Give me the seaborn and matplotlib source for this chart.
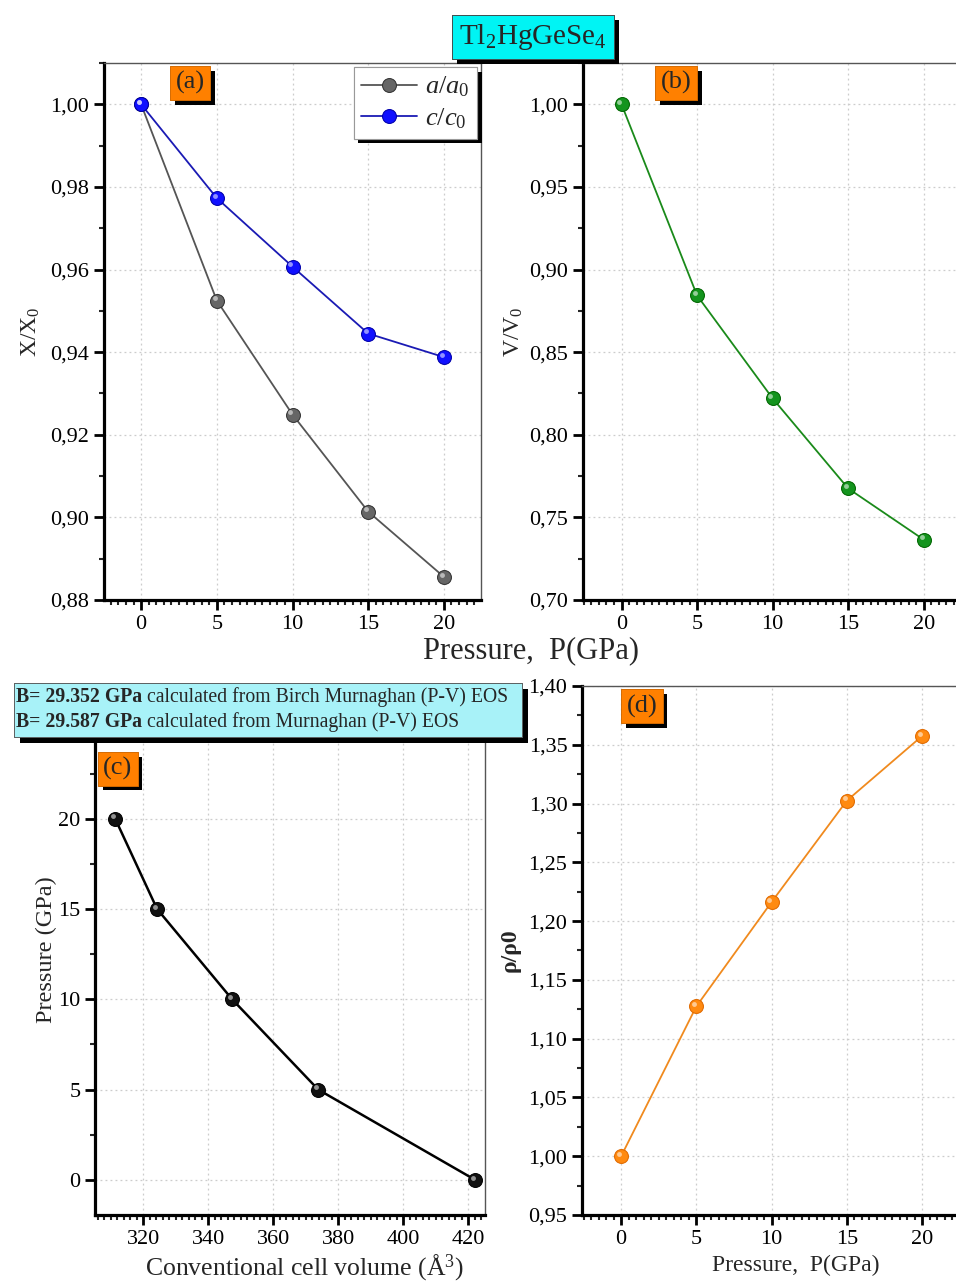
import numpy as np
import pandas as pd
import matplotlib
matplotlib.use("Agg")
import matplotlib.pyplot as plt
import matplotlib.patheffects as pe
from matplotlib.patches import Rectangle
from matplotlib.transforms import ScaledTranslation
from matplotlib.ticker import MultipleLocator, FuncFormatter, FixedLocator
import seaborn as sns

# ---------------- data ----------------
pressure = [0, 5, 10, 15, 20]
a_ratio = [1.000, 0.9525, 0.9249, 0.9014, 0.8856]
c_ratio = [1.000, 0.9773, 0.9607, 0.9445, 0.9388]
v_ratio = [1.000, 0.8843, 0.8220, 0.7675, 0.7365]
volume = [422.1, 373.8, 347.3, 324.2, 311.3]
rho_ratio = [1.000, 1.1275, 1.2163, 1.3025, 1.3575]
c_pressure_ticks = [0, 5, 10, 15, 20]

title_text = "Tl$_2$HgGeSe$_4$"
box_bold = ["B= 29.352 GPa", "B= 29.587 GPa"]
box_rest = [" calculated from Birch Murnaghan (P-V) EOS",
            " calculated from Murnaghan (P-V) EOS"]

sns.set_style("ticks")
plt.rcParams["font.family"] = ["Liberation Serif", "DejaVu Serif"]
plt.rcParams["mathtext.fontset"] = "custom"
plt.rcParams["mathtext.rm"] = "Liberation Serif"
plt.rcParams["mathtext.it"] = "Liberation Serif:italic"
plt.rcParams["mathtext.bf"] = "Liberation Serif:bold"

W, H = 956, 1284
fig = plt.figure(figsize=(W / 100, H / 100), dpi=100)


def rect(l, t, r, b):
    return [l / W, 1 - b / H, (r - l) / W, (b - t) / H]


ax_a = fig.add_axes(rect(104, 63, 481, 600))
ax_b = fig.add_axes(rect(583, 63, 960, 600))
ax_c = fig.add_axes(rect(95, 685, 485, 1215))
ax_d = fig.add_axes(rect(582, 686, 959, 1215))

comma2 = FuncFormatter(lambda v, p: f"{v:.2f}".replace(".", ","))
intfmt = FuncFormatter(lambda v, p: f"{v:.0f}")

shadow = [pe.withSimplePatchShadow(offset=(3.5, -3.5), shadow_rgbFace="black",
                                   alpha=1.0), pe.Normal()]


def style(ax, xmaj, xmin, ymaj, ymin, yfmt):
    for s in ["left", "bottom"]:
        ax.spines[s].set_linewidth(2.3)
        ax.spines[s].set_color("black")
    for s in ["top", "right"]:
        ax.spines[s].set_visible(True)
        ax.spines[s].set_linewidth(1.0)
        ax.spines[s].set_color("#555555")
    ax.xaxis.set_major_locator(MultipleLocator(xmaj))
    ax.xaxis.set_minor_locator(MultipleLocator(xmin))
    ax.yaxis.set_major_locator(MultipleLocator(ymaj))
    ax.yaxis.set_minor_locator(MultipleLocator(ymin))
    ax.yaxis.set_major_formatter(yfmt)
    ax.xaxis.set_major_formatter(intfmt)
    ax.tick_params(which="major", direction="out", length=7, width=2.0,
                   labelsize=16, colors="black", top=False, right=False)
    ax.tick_params(which="minor", direction="out", length=3.5, width=1.5,
                   top=False, right=False)
    ax.grid(True, which="major", linestyle=(0, (1.5, 2.5)), color="#cccccc",
            linewidth=0.9)
    ax.set_axisbelow(True)


def panel_label(ax, txt, x, y):
    t = ax.text(x, y, txt, transform=ax.transAxes, fontsize=19,
                ha="center", va="center", zorder=10,
                bbox=dict(boxstyle="square,pad=0.2", fc="#ff8000",
                          ec="#cc6600", lw=0.5))
    t.get_bbox_patch().set_path_effects(shadow)


def highlight(ax, x, y):
    off = ax.transData + ScaledTranslation(-1.6 / 72, 1.6 / 72,
                                           fig.dpi_scale_trans)
    ax.plot(x, y, linestyle="none", marker="o", markersize=3.5,
            markerfacecolor="white", markeredgewidth=0, alpha=0.55,
            transform=off, zorder=5)


mk = dict(marker="o", markersize=10, linewidth=1.3)

# ---------------- (a) ----------------
df_a = pd.DataFrame({"P": pressure * 2, "val": a_ratio + c_ratio,
                     "series": ["a"] * 5 + ["c"] * 5})
sns.lineplot(data=df_a[df_a.series == "a"], x="P", y="val", ax=ax_a,
             color="#555555", markeredgecolor="#333333",
             markerfacecolor="#666666",
             label=r"$\mathit{a/a}_{\mathit{0}}$", **mk)
sns.lineplot(data=df_a[df_a.series == "c"], x="P", y="val", ax=ax_a,
             color="#1a1ab4", markeredgecolor="#0000aa",
             markerfacecolor="#1010ff",
             label=r"$\mathit{c/c}_{\mathit{0}}$", **mk)
highlight(ax_a, pressure, a_ratio)
highlight(ax_a, pressure, c_ratio)
ax_a.set_xlim(-2.45, 22.45)
ax_a.set_ylim(0.88, 1.01)
style(ax_a, 5, 0.5, 0.02, 0.01, comma2)
ax_a.set_xlabel("")
ax_a.set_ylabel("X/X$_0$", fontsize=17, labelpad=6)
leg = ax_a.legend(loc="upper right", fontsize=19, frameon=True,
                  fancybox=False, borderaxespad=0.15, handlelength=2.1,
                  borderpad=0.3, labelspacing=0.25, handletextpad=0.3,
                  framealpha=1.0, facecolor="white")
leg.get_frame().set_edgecolor("#999999")
leg.get_frame().set_linewidth(0.8)
leg.get_frame().set_path_effects(shadow)
panel_label(ax_a, "(a)", 0.228, 0.963)

# ---------------- (b) ----------------
df_b = pd.DataFrame({"P": pressure, "val": v_ratio})
sns.lineplot(data=df_b, x="P", y="val", ax=ax_b, color="#1a8a1a",
             markeredgecolor="#006600", markerfacecolor="#14941e", **mk)
highlight(ax_b, pressure, v_ratio)
ax_b.set_xlim(-2.55, 22.4)
ax_b.set_ylim(0.70, 1.025)
style(ax_b, 5, 0.5, 0.05, 0.025, comma2)
ax_b.set_xlabel("")
ax_b.set_ylabel("V/V$_0$", fontsize=17, labelpad=3)
panel_label(ax_b, "(b)", 0.247, 0.963)

fig.text(531 / W, 1 - 651 / H, "Pressure,  P(GPa)", fontsize=22,
         ha="center", va="center")

# ---------------- (c) ----------------
df_c = pd.DataFrame({"V": volume, "P": pressure})
sns.lineplot(data=df_c, x="V", y="P", ax=ax_c, color="black", sort=False,
             markeredgecolor="black", markerfacecolor="#111111",
             **dict(mk, linewidth=1.8))
highlight(ax_c, volume, pressure)
ax_c.set_xlim(305.1, 425.1)
ax_c.set_ylim(-1.94, 27.4)
style(ax_c, 20, 2, 5, 2.5, intfmt)
ax_c.yaxis.set_major_locator(FixedLocator(c_pressure_ticks))
ax_c.set_xlabel("Conventional cell volume (Å$^3$)", fontsize=18.5)
ax_c.xaxis.set_label_coords(0.538, -0.07)
ax_c.set_ylabel("Pressure (GPa)", fontsize=17.5, labelpad=1)
panel_label(ax_c, "(c)", 0.058, 0.842)

# ---------------- (d) ----------------
df_d = pd.DataFrame({"P": pressure, "val": rho_ratio})
sns.lineplot(data=df_d, x="P", y="val", ax=ax_d, color="#f08a1e",
             markeredgecolor="#e06a00", markerfacecolor="#ff8a10", **mk)
highlight(ax_d, pressure, rho_ratio)
ax_d.set_xlim(-2.6, 22.45)
ax_d.set_ylim(0.95, 1.40)
style(ax_d, 5, 0.5, 0.05, 0.025, comma2)
ax_d.set_xlabel("Pressure,  P(GPa)", fontsize=17)
ax_d.xaxis.set_label_coords(0.568, -0.075)
ax_d.set_ylabel("ρ/ρ0", fontsize=17, fontweight="bold", labelpad=6)
panel_label(ax_d, "(d)", 0.159, 0.962)

# ---------------- boxes ----------------
t = fig.text(533 / W, 1 - 37 / H, title_text, fontsize=21, ha="center",
             va="center", zorder=20,
             bbox=dict(boxstyle="square,pad=0.25", fc="#00f4f4",
                       ec="#444444", lw=0.6))
t.get_bbox_patch().set_path_effects(shadow)

box = Rectangle((14 / W, 1 - 737 / H), (522 - 14) / W, (737 - 683) / H,
                transform=fig.transFigure, facecolor="#a8f2f8",
                edgecolor="#555555", linewidth=0.6, zorder=19)
box.set_path_effects([pe.withSimplePatchShadow(offset=(4, -4),
                                               shadow_rgbFace="black",
                                               alpha=1.0), pe.Normal()])
fig.patches.append(box)

for i, (bold, rest) in enumerate(zip(box_bold, box_rest)):
    yc = 697 + 25 * i
    tb = fig.text(16 / W, 1 - yc / H, bold, fontsize=14.2, fontweight="bold",
                  ha="left", va="center", zorder=21)
    fig.canvas.draw()
    ext = tb.get_window_extent()
    fig.text(ext.x1 / W, ext.y0 / H, rest, fontsize=14.2, ha="left",
             va="bottom", zorder=21)

fig.savefig("out.png", dpi=100)
